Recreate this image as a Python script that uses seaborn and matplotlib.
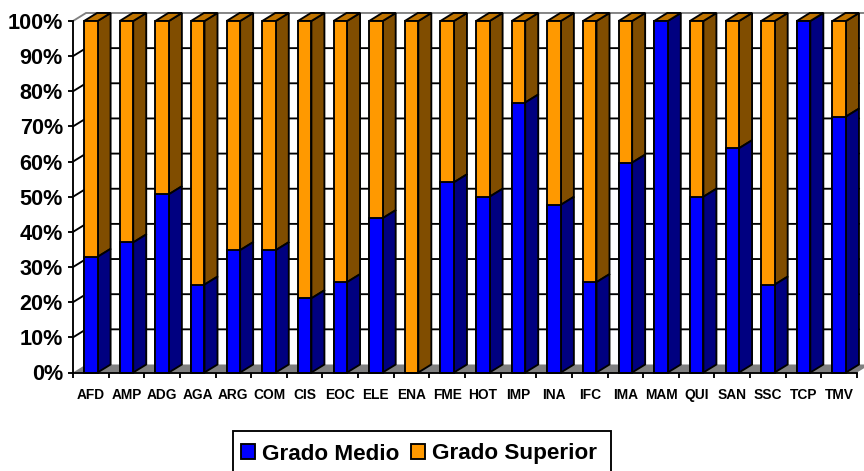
import matplotlib
matplotlib.use("Agg")
import matplotlib.pyplot as plt
import numpy as np
import pandas as pd
import seaborn as sns
from matplotlib.patches import Patch, Polygon, Rectangle

familias = ["AFD", "AMP", "ADG", "AGA", "ARG", "COM", "CIS", "EOC", "ELE", "ENA", "FME",
            "HOT", "IMP", "INA", "IFC", "IMA", "MAM", "QUI", "SAN", "SSC", "TCP", "TMV"]
grado_medio = [32.9, 37.0, 50.7, 25.0, 34.8, 34.8, 21.1, 25.7, 43.9, 0, 54.1,
               50.0, 76.8, 47.7, 25.7, 59.7, 100, 50.0, 63.8, 25.0, 100, 72.8]
grado_superior = [67.1, 63.0, 49.3, 75.0, 65.2, 65.2, 78.9, 74.3, 56.1, 100, 45.9,
                  50.0, 23.2, 52.3, 74.3, 40.3, 0, 50.0, 36.2, 75.0, 0, 27.2]
y_ticks = [0, 10, 20, 30, 40, 50, 60, 70, 80, 90, 100]

AZUL, AZUL_LADO = "#0000ff", "#000080"
NARANJA, NARANJA_LADO, NARANJA_TOP = "#ff9900", "#804d00", "#bf7300"
DX, DY = 0.365, 2.28  # profundidad del efecto 3D
LW = 1.35

sns.set_theme(style="white")
plt.rcParams["font.family"] = ["Liberation Sans", "DejaVu Sans"]
plt.rcParams["font.weight"] = "bold"

df = pd.DataFrame({"Familia": familias, "Medio": grado_medio, "Superior": grado_superior})
df["Total"] = df["Medio"] + df["Superior"]

fig = plt.figure(figsize=(8.64, 4.71), dpi=100)
ax = fig.add_axes([73 / 864, 1 - 372.5 / 471, 784 / 864, 351.5 / 471])

# la barra naranja va detras y la azul encima, apiladas
sns.barplot(data=df, x="Familia", y="Total", color=NARANJA, saturation=1, width=0.38,
            edgecolor="black", linewidth=LW, ax=ax, zorder=4)
sns.barplot(data=df, x="Familia", y="Medio", color=AZUL, saturation=1, width=0.38,
            edgecolor="black", linewidth=LW, ax=ax, zorder=5)

n = len(familias)
ax.set_xlim(-0.5, n - 0.5)
ax.set_ylim(0, 100)
ax.patch.set_alpha(0)

# suelo gris
x0, x1 = -0.5, n - 0.5
ax.add_patch(Polygon([(x0, 0), (x0 + DX, DY), (x1 + DX, DY), (x1, 0)], closed=True,
                     facecolor="#808080", edgecolor="none", clip_on=False, zorder=1))

# paredes del fondo con la rejilla
for y in y_ticks[1:]:
    color = "#808080" if y == 100 else "black"
    xfin = x1 + DX if y == 100 else x1 + 0.06
    ax.plot([x0, x0 + DX, xfin], [y, y + DY, y + DY], color=color, lw=LW,
            clip_on=False, zorder=2, solid_joinstyle="miter")

# caras laterales y superiores de las barras
naranjas, azules = ax.containers[0], ax.containers[1]
for naranja, azul in zip(naranjas, azules):
    x = naranja.get_x() + naranja.get_width()
    xi = naranja.get_x()
    top = naranja.get_height()
    med = azul.get_height()
    ax.add_patch(Polygon([(x, med), (x + DX, med + DY), (x + DX, top + DY), (x, top)], closed=True,
                         facecolor=NARANJA_LADO, edgecolor="black", lw=LW, clip_on=False, zorder=3))
    if med > 0:
        ax.add_patch(Polygon([(x, 0), (x + DX, DY), (x + DX, med + DY), (x, med)], closed=True,
                             facecolor=AZUL_LADO, edgecolor="black", lw=LW, clip_on=False, zorder=3))
    ax.add_patch(Polygon([(xi, top), (xi + DX, top + DY), (x + DX, top + DY), (x, top)], closed=True,
                         facecolor=NARANJA_TOP, edgecolor="black", lw=LW, clip_on=False, zorder=3))

for bar in list(naranjas) + list(azules):
    bar.set_clip_on(False)

sns.despine(ax=ax, top=True, right=True)
for lado in ["left", "bottom"]:
    ax.spines[lado].set_color("black")
    ax.spines[lado].set_linewidth(LW)
    ax.spines[lado].set_zorder(6)

ax.set_xlabel("")
ax.set_ylabel("")
ax.set_yticks(y_ticks)
ax.set_yticklabels([f"{y}%" for y in y_ticks], fontsize=15.6, fontweight="bold", color="black")
ax.tick_params(axis="y", left=True, length=3.5, width=LW, color="black", pad=3.7)

# marcas entre categorias, etiquetas centradas
ax.set_xticks(np.arange(n + 1) - 0.5)
ax.set_xticklabels([])
ax.set_xticks(np.arange(n), labels=familias, minor=True)
ax.tick_params(axis="x", which="major", bottom=True, length=3.3, width=LW, color="black")
ax.tick_params(axis="x", which="minor", bottom=False, length=0, pad=11.5, labelsize=9.9,
               labelcolor="black")
for t in ax.get_xticklabels(minor=True):
    t.set_fontweight("bold")

# marco de la leyenda: se sale por abajo de la figura
fig.add_artist(Rectangle((233 / 864, 1 - 473 / 471), 378 / 864, 42 / 471, transform=fig.transFigure,
                         facecolor="white", edgecolor="black", lw=LW, clip_on=True))

handles = [Patch(facecolor=AZUL, edgecolor="black", lw=LW, label="Grado Medio"),
           Patch(facecolor=NARANJA, edgecolor="black", lw=LW, label="Grado Superior")]
leg = fig.legend(handles=handles, loc="center", bbox_to_anchor=(419 / 864, 1 - 454 / 471),
                 ncol=2, fontsize=16.2, frameon=False, handlelength=0.6, handleheight=0.6,
                 handletextpad=0.33, columnspacing=0.52, borderpad=0.36, borderaxespad=0,
                 labelcolor="black")
# ajuste fino: las dos columnas no quedan a la misma altura
leg.get_texts()[1].set_position((0, 1))

fig.savefig("out.png", dpi=100)
